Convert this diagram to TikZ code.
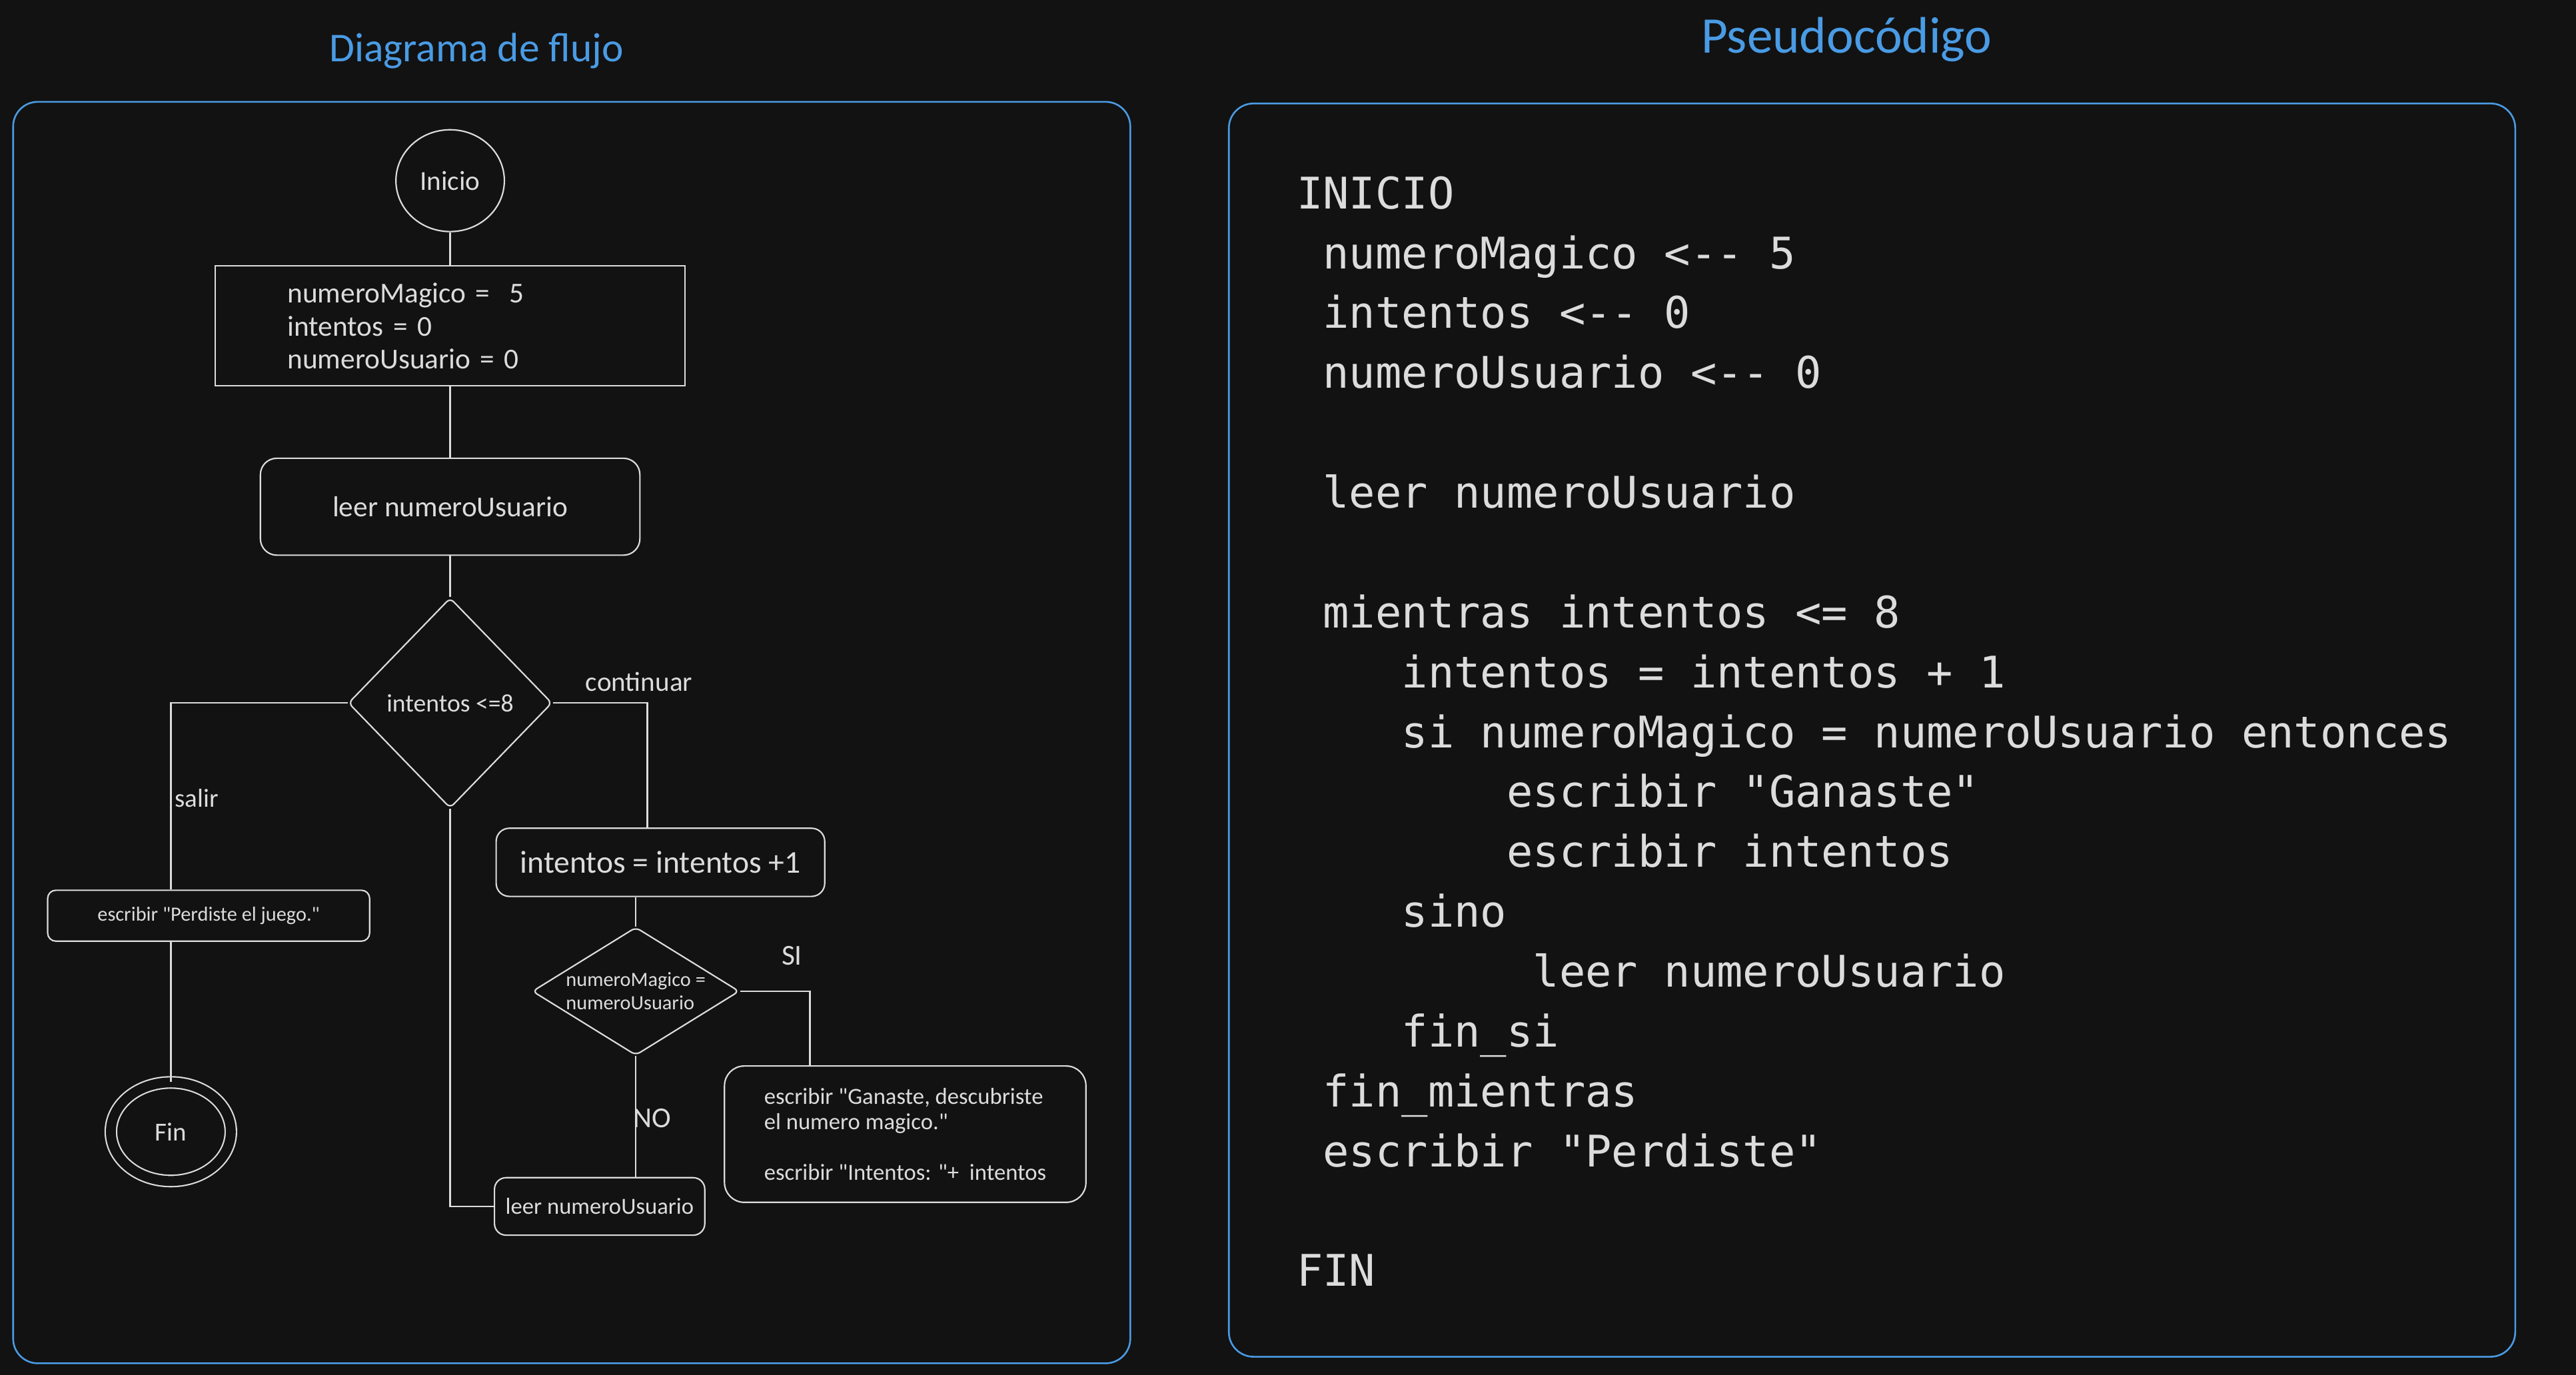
\documentclass[tikz,border=0pt]{standalone}
\usepackage{fontspec}
\newfontfamily\flujo{Carlito}
\newfontfamily\monofuente{DejaVu Sans Mono}
\usetikzlibrary{shapes.geometric}
\definecolor{fondo}{HTML}{121212}
\definecolor{trazo}{HTML}{DCDCDC}
\definecolor{azul}{HTML}{4A9BE4}
\tikzset{
  caja/.style={draw=trazo, line width=0.5pt, text=trazo, inner sep=0pt},
  cajared/.style={caja, rounded corners=2mm},
  rombo/.style={caja, diamond, rounded corners=0.6mm},
  linea/.style={draw=trazo, line width=0.5pt},
  etiqueta/.style={text=trazo, inner sep=0pt},
  panel/.style={draw=azul, line width=0.6pt, rounded corners=3mm},
  titulo/.style={text=azul, inner sep=0pt}
}
% sangria en columnas de la fuente mono
\newcommand{\sangria}[1]{\hspace*{#1\fontcharwd\font`M}}

\begin{document}
\begin{tikzpicture}[x=0.2mm, y=-0.2mm]
\fill[fondo] (0,0) rectangle (1568,837);
\useasboundingbox (0,0) rectangle (1568,837);

% titulos y marcos
\node[titulo, font=\flujo\fontsize{14.2}{17}\selectfont] (tflujo) at (290,31) {Diagrama de flujo};
\node[titulo, font=\flujo\fontsize{17.8}{20}\selectfont] (tpseudo) at (1124,24) {Pseudocódigo};
\draw[panel] (8,62) rectangle (688,830);
\draw[panel] (748,63) rectangle (1531,826);

% diagrama de flujo
\node[caja, ellipse, minimum width=13.2mm, minimum height=12.4mm, font=\flujo\fontsize{9.5}{11}\selectfont] (inicio) at (274,110) {Inicio};
\node[caja, minimum width=57.2mm, minimum height=14.6mm, text width=39.6mm, align=left, font=\flujo\fontsize{10}{11.4}\selectfont] (datos) at (274,198.5) {numeroMagico =\ \ 5\\ intentos = 0\\ numeroUsuario = 0};
\node[cajared, minimum width=46.2mm, minimum height=11.8mm, font=\flujo\fontsize{10}{12}\selectfont] (leer) at (274,308.5) {leer numeroUsuario};
\node[rombo, minimum width=24.8mm, minimum height=25.6mm, font=\flujo\fontsize{8.7}{10}\selectfont] (mientras) at (274,428) {intentos <=8};
\node[cajared, rounded corners=1mm, minimum width=39.2mm, minimum height=6.2mm, font=\flujo\fontsize{7}{8}\selectfont] (perdiste) at (127,557.5) {escribir "Perdiste el juego."};
\node[caja, ellipse, double=fondo, double distance=1.2mm, minimum width=14.6mm, minimum height=12mm, font=\flujo\fontsize{9}{10}\selectfont] (fin) at (104,689) {Fin};
\node[cajared, rounded corners=1.6mm, minimum width=40mm, minimum height=8.3mm, font=\flujo\fontsize{11}{13}\selectfont] (suma) at (402,525) {intentos = intentos +1};
\node[rombo, aspect=1.6, minimum width=25.2mm, minimum height=15.6mm, align=left, font=\flujo\fontsize{7}{8}\selectfont] (compara) at (387,603.5) {numeroMagico =\\ numeroUsuario};
\node[cajared, rounded corners=2.4mm, minimum width=44mm, minimum height=16.6mm, align=left, font=\flujo\fontsize{8}{8.8}\selectfont] (ganaste) at (551,690.5) {escribir "Ganaste, descubriste\\ el numero magico."\\[8.8pt] escribir "Intentos: "+\ \ intentos};
\node[cajared, rounded corners=1.4mm, minimum width=25.6mm, minimum height=7mm, font=\flujo\fontsize{8}{9}\selectfont] (leerotra) at (365,734.5) {leer numeroUsuario};

% etiquetas de las ramas
\node[etiqueta, anchor=west, font=\flujo\fontsize{9}{10}\selectfont] (lsalir) at (106,486) {salir};
\node[etiqueta, font=\flujo\fontsize{9.5}{11}\selectfont] (lcontinuar) at (389,415) {continuar};
\node[etiqueta, font=\flujo\fontsize{10}{11}\selectfont] (lsi) at (482,582) {SI};
\node[etiqueta, font=\flujo\fontsize{10}{11}\selectfont] (lno) at (397,681) {NO};

\draw[linea] (inicio.south) -- (datos.north);
\draw[linea] (datos.south) -- (leer.north);
\draw[linea] (leer.south) -- (mientras.north);
\draw[linea] (mientras.west) -| (fin.north |- perdiste.north);
\draw[linea] (perdiste.south -| fin.north) -- (fin.north);
\draw[linea] (mientras.east) -| ([xshift=-1.6mm]suma.north);
\draw[linea] (suma.south -| compara.north) -- (compara.north);
\draw[linea] (compara.east) -| ([xshift=-11.6mm]ganaste.north);
\draw[linea] (compara.south) -- (leerotra.north -| compara.south);
\draw[linea] (mientras.south) |- (leerotra.west);

% pseudocodigo
\node[anchor=north west, inner sep=0pt, align=left, text=trazo, font=\monofuente\fontsize{15.1}{20.74}\selectfont] (pseudo) at (789,107) {INICIO\\
\sangria{1}numeroMagico <-{}- 5\\
\sangria{1}intentos <-{}- 0\\
\sangria{1}numeroUsuario <-{}- 0\\[20.74pt]
\sangria{1}leer numeroUsuario\\[20.74pt]
\sangria{1}mientras intentos <= 8\\
\sangria{4}intentos = intentos + 1\\
\sangria{4}si numeroMagico = numeroUsuario entonces\\
\sangria{8}escribir "Ganaste"\\
\sangria{8}escribir intentos\\
\sangria{4}sino\\
\sangria{9}leer numeroUsuario\\
\sangria{4}fin\_si\\
\sangria{1}fin\_mientras\\
\sangria{1}escribir "Perdiste"\\[20.74pt]
FIN};
\end{tikzpicture}
\end{document}
